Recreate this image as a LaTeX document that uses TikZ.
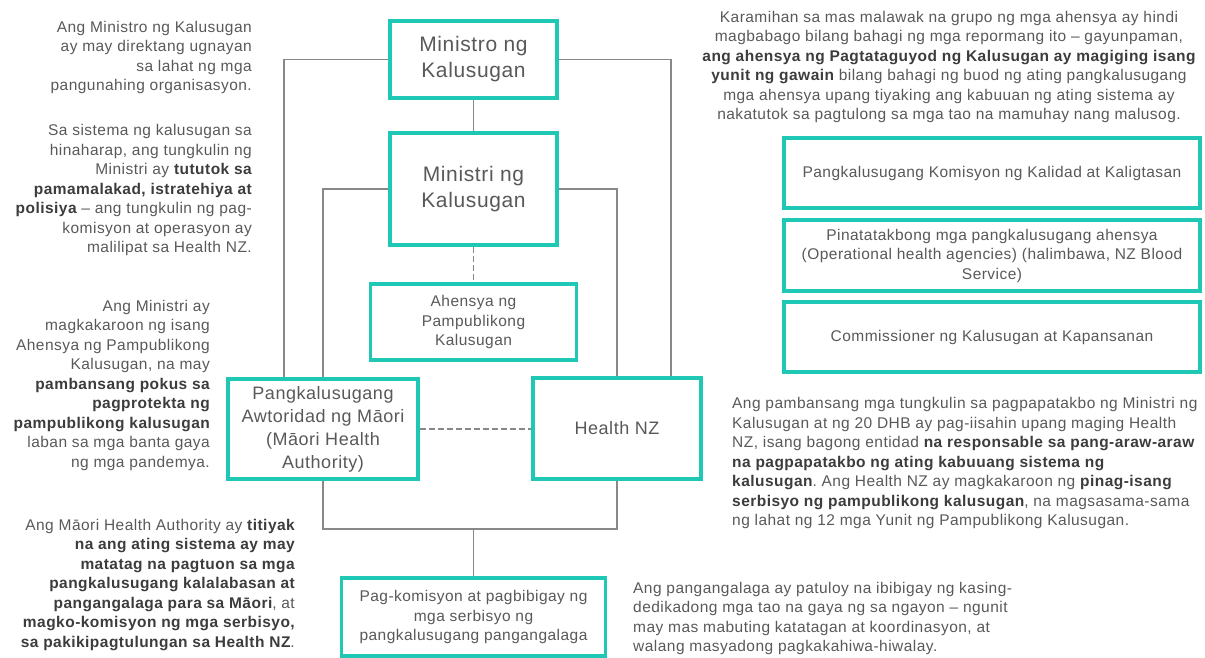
\documentclass[tikz,border=0pt]{standalone}
\usepackage{fontspec}
\setmainfont{Liberation Sans}[LetterSpace=3]
\definecolor{teal1}{RGB}{30,200,180}
\definecolor{txt}{RGB}{89,89,89}
\definecolor{bld}{RGB}{60,60,60}
\definecolor{ln}{RGB}{136,136,136}
\newcommand{\bt}[1]{{\bfseries\color{bld}#1}}
\frenchspacing
\begin{document}
\begin{tikzpicture}[x=1pt,y=-1pt,
  box/.style={draw=teal1, line width=3.5pt, fill=white, text=txt, align=center, inner sep=0pt,
    font=\fontsize{15.5}{19.5}\selectfont},
  bigbox/.style={box, font=\fontsize{21}{26}\selectfont},
  midbox/.style={box, font=\fontsize{18}{23}\selectfont},
  conn/.style={draw=ln, line width=1.5pt},
  dconn/.style={conn, dash pattern=on 6pt off 3pt},
  para/.style={text=txt, inner sep=0pt, font=\fontsize{15.5}{19.5}\selectfont}]
\useasboundingbox (0,0) rectangle (1205,657);

% boxes
\node[bigbox, minimum width=167pt, minimum height=77pt] (min) at (473.5,59.5) {Ministro ng\\Kalusugan};
\node[bigbox, minimum width=167pt, minimum height=112pt] (mii) at (473.5,189) {Ministri ng\\Kalusugan};
\node[box, minimum width=206pt, minimum height=76pt] (ahe) at (473.5,322) {Ahensya ng\\Pampublikong\\Kalusugan};
\node[midbox, minimum width=190pt, minimum height=100pt] (mao) at (323,429) {Pangkalusugang\\Awtoridad ng Māori\\(Māori Health\\Authority)};
\node[midbox, minimum width=168pt, minimum height=101pt] (hnz) at (617,428.5) {Health NZ};
\node[box, minimum width=264pt, minimum height=78pt] (pag) at (473.5,617) {Pag-komisyon at pagbibigay ng\\mga serbisyo ng\\pangkalusugang pangangalaga};
\node[box, minimum width=416pt, minimum height=70pt] (r1) at (992,173) {Pangkalusugang Komisyon ng Kalidad at Kaligtasan};
\node[box, minimum width=416pt, minimum height=71pt] (r2) at (992,255.5) {Pinatatakbong mga pangkalusugang ahensya\\(Operational health agencies) (halimbawa, NZ Blood\\Service)};
\node[box, minimum width=416pt, minimum height=70pt] (r3) at (992,337) {Commissioner ng Kalusugan at Kapansanan};

% connectors
\draw[conn] (min.west) -| ([xshift=-39pt]mao.north);
\draw[conn] (min.east) -| ([xshift=54pt]hnz.north);
\draw[conn] (min.south) -- (mii.north);
\draw[conn] (mii.west) -| (mao.north);
\draw[conn] (mii.east) -| (hnz.north);
\draw[dconn] (mii.south) -- (ahe.north);
\draw[dconn] (mao.east) -- (mao.east -| hnz.west);
\coordinate (bus) at (473.5,529);
\draw[conn] (mao.south) |- (bus) -| (hnz.south);
\draw[conn] (bus) -- (pag.north);

% paragraphs
\node[para, anchor=east, align=right] (p1) at (252,57.5) {Ang Ministro ng Kalusugan\\ay may direktang ugnayan\\sa lahat ng mga\\pangunahing organisasyon.};
\node[para, anchor=east, align=right] (p2) at (252,190) {Sa sistema ng kalusugan sa\\hinaharap, ang tungkulin ng\\Ministri ay \bt{tututok sa}\\\bt{pamamalakad, istratehiya at}\\\bt{polisiya} – ang tungkulin ng pag-\\komisyon at operasyon ay\\malilipat sa Health NZ.};
\node[para, anchor=east, align=right] (p3) at (210,385) {Ang Ministri ay\\magkakaroon ng isang\\Ahensya ng Pampublikong\\Kalusugan, na may\\\bt{pambansang pokus sa}\\\bt{pagprotekta ng}\\\bt{pampublikong kalusugan}\\laban sa mga banta gaya\\ng mga pandemya.};
\node[para, anchor=east, align=right] (p4) at (295,585) {Ang Māori Health Authority ay \bt{titiyak}\\\bt{na ang ating sistema ay may}\\\bt{matatag na pagtuon sa mga}\\\bt{pangkalusugang kalalabasan at}\\\bt{pangangalaga para sa Māori}, at\\\bt{magko-komisyon ng mga serbisyo,}\\\bt{sa pakikipagtulungan sa Health NZ}.};
\node[para, align=center] (p5) at (949,67) {Karamihan sa mas malawak na grupo ng mga ahensya ay hindi\\magbabago bilang bahagi ng mga repormang ito – gayunpaman,\\\bt{ang ahensya ng Pagtataguyod ng Kalusugan ay magiging isang}\\\bt{yunit ng gawain} bilang bahagi ng buod ng ating pangkalusugang\\mga ahensya upang tiyaking ang kabuuan ng ating sistema ay\\nakatutok sa pagtulong sa mga tao na mamuhay nang malusog.};
\node[para, anchor=west, align=left] (p6) at (732,463) {Ang pambansang mga tungkulin sa pagpapatakbo ng Ministri ng\\Kalusugan at ng 20 DHB ay pag-iisahin upang maging Health\\NZ, isang bagong entidad \bt{na responsable sa pang-araw-araw}\\\bt{na pagpapatakbo ng ating kabuuang sistema ng}\\\bt{kalusugan}. Ang Health NZ ay magkakaroon ng \bt{pinag-isang}\\\bt{serbisyo ng pampublikong kalusugan}, na magsasama-sama\\ng lahat ng 12 mga Yunit ng Pampublikong Kalusugan.};
\node[para, anchor=west, align=left] (p7) at (633,618.5) {Ang pangangalaga ay patuloy na ibibigay ng kasing-\\dedikadong mga tao na gaya ng sa ngayon – ngunit\\may mas mabuting katatagan at koordinasyon, at\\walang masyadong pagkakahiwa-hiwalay.};
\end{tikzpicture}
\end{document}
